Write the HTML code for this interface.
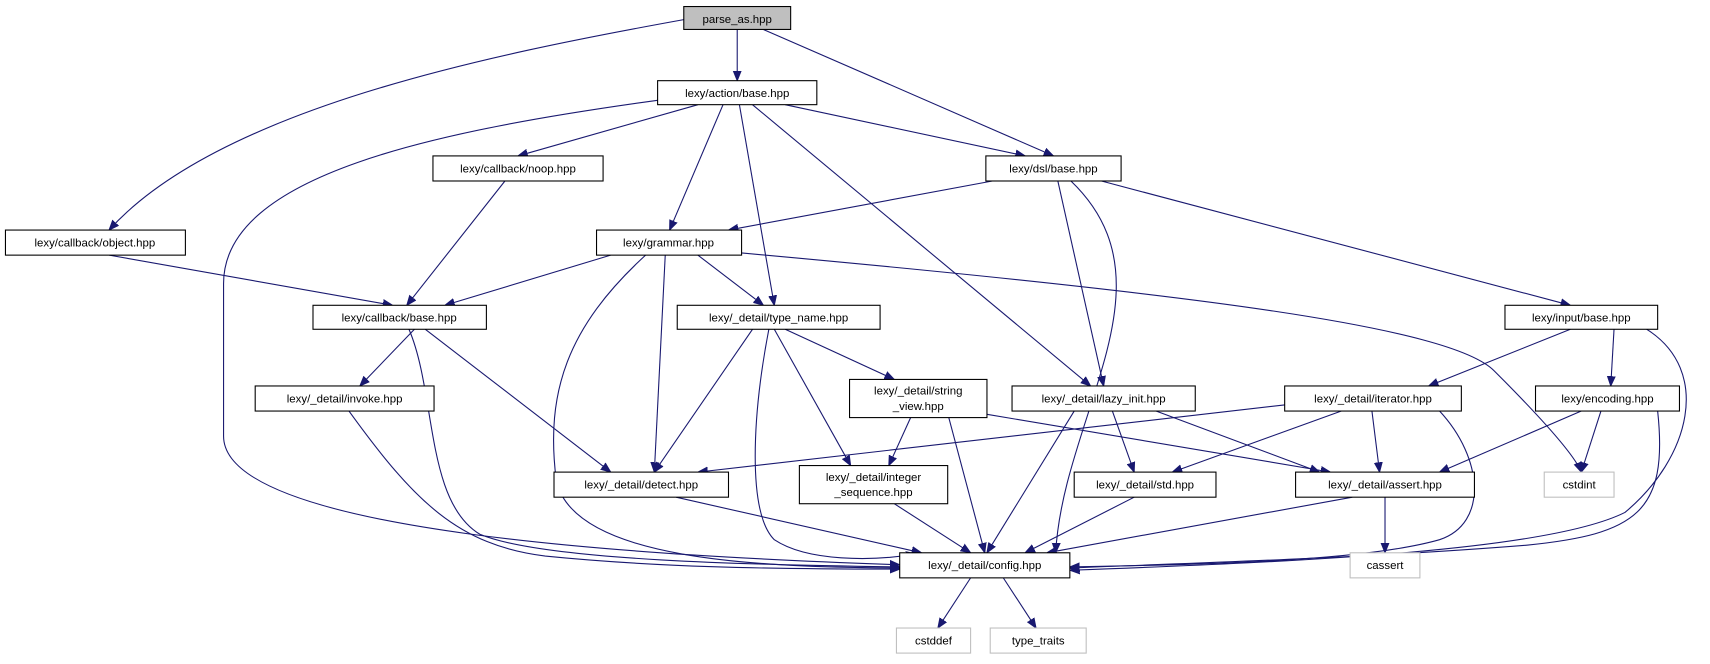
<!DOCTYPE html>
<html><head><meta charset="utf-8"><style>
html,body{margin:0;padding:0;background:#fff;width:1710px;height:664px;overflow:hidden}
svg{display:block}
text{font-family:"Liberation Sans",sans-serif;font-size:10.5px;fill:#000;text-anchor:middle}
.n{fill:#fff;stroke:#000;stroke-width:1}
.g{fill:#fff;stroke:#bfbfbf;stroke-width:1}
.g2{fill:#bfbfbf;stroke:#000}
path.e{fill:none;stroke:#191970;stroke-width:1;marker-end:url(#a)}
</style></head><body>
<svg width="1710" height="664" viewBox="0 0 1568 609" preserveAspectRatio="none">
<defs><marker id="a" viewBox="0 0 10 10" refX="10" refY="5" markerWidth="9" markerHeight="9" markerUnits="userSpaceOnUse" orient="auto"><path d="M0,1 L10,5 L0,9 z" fill="#191970" stroke="#191970"/></marker></defs>
<g>
<path class="e" d="M627,18 C450,50 200,100 100,211"/>
<path class="e" d="M676,27 L676,74"/>
<path class="e" d="M700,27 L966,143"/>
<path class="e" d="M640,96 L475,143"/>
<path class="e" d="M720,96 L940,143"/>
<path class="e" d="M663,96 L614,211"/>
<path class="e" d="M678,96 L710,280"/>
<path class="e" d="M690,96 L1000,354"/>
<path class="e" d="M603,92 C400,120 205,160 205,260 L205,400 C205,490 600,510 825,518"/>
<path class="e" d="M463,166 L373,280"/>
<path class="e" d="M100,234 L360,280"/>
<path class="e" d="M910,166 L668,211"/>
<path class="e" d="M970,166 L1012,354"/>
<path class="e" d="M982,166 C1080,260 975,380 968,507"/>
<path class="e" d="M1010,166 L1440,280"/>
<path class="e" d="M560,234 L408,280"/>
<path class="e" d="M640,234 L700,280"/>
<path class="e" d="M610,234 L600,433"/>
<path class="e" d="M592,234 C520,300 500,360 510,440 C525,515 700,520 825,521"/>
<path class="e" d="M680,232 C1100,270 1330,300 1370,340 C1420,390 1445,420 1450,433"/>
<path class="e" d="M380,302 L330,354"/>
<path class="e" d="M390,302 L560,433"/>
<path class="e" d="M375,302 C400,360 390,460 440,490 C500,515 700,518 825,520"/>
<path class="e" d="M690,302 L600,433"/>
<path class="e" d="M720,302 L820,348"/>
<path class="e" d="M710,302 L780,427"/>
<path class="e" d="M705,302 C690,380 685,470 710,495 C740,515 800,515 840,508"/>
<path class="e" d="M320,377 C380,460 420,500 500,510 C600,520 700,522 825,522"/>
<path class="e" d="M835,383 L815,427"/>
<path class="e" d="M870,383 L903,507"/>
<path class="e" d="M905,380 L1220,433"/>
<path class="e" d="M985,377 L905,507"/>
<path class="e" d="M1020,377 L1040,433"/>
<path class="e" d="M1060,377 L1210,433"/>
<path class="e" d="M1190,370 L640,433"/>
<path class="e" d="M1230,377 L1075,433"/>
<path class="e" d="M1258,377 L1265,433"/>
<path class="e" d="M1320,377 C1360,420 1365,480 1320,495 C1250,515 1100,518 981,520"/>
<path class="e" d="M1440,302 L1310,354"/>
<path class="e" d="M1480,302 L1477,354"/>
<path class="e" d="M1510,302 C1570,340 1550,420 1490,470 C1420,505 1200,515 981,523"/>
<path class="e" d="M1450,377 L1320,433"/>
<path class="e" d="M1468,377 L1450,433"/>
<path class="e" d="M1520,377 C1530,470 1500,490 1400,500 C1250,512 1100,516 981,521"/>
<path class="e" d="M620,456 L845,507"/>
<path class="e" d="M820,462 L890,507"/>
<path class="e" d="M1040,456 L940,507"/>
<path class="e" d="M1240,456 L960,507"/>
<path class="e" d="M1270,456 L1270,507"/>
<path class="e" d="M890,530 L860,576"/>
<path class="e" d="M920,530 L950,576"/>
</g>
<g>
<rect class="g2" x="627" y="6" width="98" height="21"/><text x="676" y="21">parse_as.hpp</text>
<rect class="n" x="603" y="74" width="146" height="22"/><text x="676" y="89">lexy/action/base.hpp</text>
<rect class="n" x="397" y="143" width="156" height="23"/><text x="475" y="158">lexy/callback/noop.hpp</text>
<rect class="n" x="904" y="143" width="124" height="23"/><text x="966" y="158">lexy/dsl/base.hpp</text>
<rect class="n" x="5" y="211" width="165" height="23"/><text x="87" y="226">lexy/callback/object.hpp</text>
<rect class="n" x="547" y="211" width="133" height="23"/><text x="613" y="226">lexy/grammar.hpp</text>
<rect class="n" x="287" y="280" width="159" height="22"/><text x="366" y="295">lexy/callback/base.hpp</text>
<rect class="n" x="621" y="280" width="186" height="22"/><text x="714" y="295">lexy/_detail/type_name.hpp</text>
<rect class="n" x="1380" y="280" width="140" height="22"/><text x="1450" y="295">lexy/input/base.hpp</text>
<rect class="n" x="234" y="354" width="164" height="23"/><text x="316" y="369">lexy/_detail/invoke.hpp</text>
<rect class="n" x="779" y="348" width="126" height="35"/><text x="842" y="362">lexy/_detail/string</text><text x="842" y="376">_view.hpp</text>
<rect class="n" x="928" y="354" width="168" height="23"/><text x="1012" y="369">lexy/_detail/lazy_init.hpp</text>
<rect class="n" x="1178" y="354" width="162" height="23"/><text x="1259" y="369">lexy/_detail/iterator.hpp</text>
<rect class="n" x="1408" y="354" width="132" height="23"/><text x="1474" y="369">lexy/encoding.hpp</text>
<rect class="n" x="508" y="433" width="160" height="23"/><text x="588" y="448">lexy/_detail/detect.hpp</text>
<rect class="n" x="733" y="427" width="136" height="35"/><text x="801" y="441">lexy/_detail/integer</text><text x="801" y="455">_sequence.hpp</text>
<rect class="n" x="985" y="433" width="130" height="23"/><text x="1050" y="448">lexy/_detail/std.hpp</text>
<rect class="n" x="1188" y="433" width="164" height="23"/><text x="1270" y="448">lexy/_detail/assert.hpp</text>
<rect class="g" x="1416" y="433" width="64" height="23"/><text x="1448" y="448">cstdint</text>
<rect class="n" x="825" y="507" width="156" height="23"/><text x="903" y="522">lexy/_detail/config.hpp</text>
<rect class="g" x="1238" y="507" width="64" height="23"/><text x="1270" y="522">cassert</text>
<rect class="g" x="822" y="576" width="68" height="23"/><text x="856" y="591">cstddef</text>
<rect class="g" x="908" y="576" width="88" height="23"/><text x="952" y="591">type_traits</text>
</g>
</svg>
</body></html>
